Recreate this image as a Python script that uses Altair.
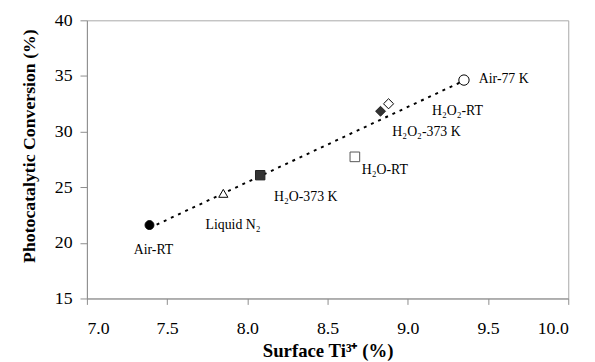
import altair as alt
import pandas as pd

labels = ["Air-RT", "Liquid N₂", "H₂O-373 K", "H₂O-RT", "H₂O₂-373 K", "H₂O₂-RT", "Air-77 K"]
surface_ti = [7.39, 7.85, 8.08, 8.67, 8.83, 8.88, 9.35]
conversion = [21.6, 24.45, 26.08, 27.73, 31.83, 32.5, 34.63]

x_ticks = [7.0, 7.5, 8.0, 8.5, 9.0, 9.5, 10.0]
y_ticks = [15, 20, 25, 30, 35, 40]

df = pd.DataFrame({"label": labels, "x": surface_ti, "y": conversion})

FONT = "Liberation Serif"
AX = "#8c8c8c"

xs = alt.Scale(domain=[7, 10], nice=False, zero=False)
ys = alt.Scale(domain=[15, 40], nice=False, zero=False)

base = alt.Chart(df)

trend = base.transform_regression("x", "y").mark_line(
    color="black", strokeDash=[3, 5], strokeWidth=2
).encode(
    x=alt.X("x:Q", scale=xs,
            axis=alt.Axis(values=x_ticks, format=".1f", title="Surface Ti³⁺ (%)",
                          titleY=53, titleBaseline="middle",
                          labelFont=FONT, labelFontSize=18, titleFont=FONT, titleFontSize=19,
                          tickSize=6, labelPadding=16, grid=False)),
    y=alt.Y("y:Q", scale=ys,
            axis=alt.Axis(values=y_ticks, format="d", title="Photocatalytic Conversion (%)",
                          titleX=-58, titleY=127, titleAngle=-90, titleAlign="center",
                          labelFont=FONT, labelFontSize=18, titleFont=FONT, titleFontSize=18,
                          titleBaseline="middle", tickSize=7, labelPadding=8, grid=False)),
)

shapes = ["circle", "triangle-up", "square", "square", "diamond", "diamond", "circle"]
fills = ["black", "white", "#333333", "white", "#333333", "white", "white"]
strokes = ["black", "black", "#222222", "#555555", "#222222", "black", "black"]
sizes = [81, 110, 81, 100, 110, 90, 81]

points = base.mark_point(opacity=1, fillOpacity=1, strokeWidth=1).encode(
    x=alt.X("x:Q", scale=xs),
    y=alt.Y("y:Q", scale=ys),
    shape=alt.Shape("label:N", scale=alt.Scale(domain=labels, range=shapes), legend=None),
    fill=alt.Fill("label:N", scale=alt.Scale(domain=labels, range=fills), legend=None),
    stroke=alt.Stroke("label:N", scale=alt.Scale(domain=labels, range=strokes), legend=None),
    size=alt.Size("label:N", scale=alt.Scale(domain=labels, range=sizes), legend=None),
)

label_style = {
    "Air-RT": dict(dx=4, dy=25, align="center"),
    "Liquid N₂": dict(dx=-18, dy=32, align="left"),
    "H₂O-373 K": dict(dx=14, dy=22, align="left"),
    "H₂O-RT": dict(dx=7, dy=13, align="left"),
    "H₂O₂-373 K": dict(dx=12, dy=21, align="left"),
    "H₂O₂-RT": dict(dx=44, dy=7, align="left"),
    "Air-77 K": dict(dx=15, dy=-1, align="left"),
}

texts = []
for lab in labels:
    st = label_style[lab]
    texts.append(
        base.transform_filter(alt.datum.label == lab).mark_text(
            font=FONT, fontSize=14, color="black", baseline="middle",
            align=st["align"], dx=st["dx"], dy=st["dy"]
        ).encode(
            x=alt.X("x:Q", scale=xs),
            y=alt.Y("y:Q", scale=ys),
            text="label:N",
        )
    )

chart = alt.layer(trend, points, *texts).properties(
    width=488, height=282,
    autosize=alt.AutoSizeParams(type="none"),
    padding={"left": 80, "top": 10, "right": 19, "bottom": 70},
).configure_view(
    stroke="#a8a8a8", strokeWidth=1
).configure_axis(
    domainColor=AX, tickColor=AX, labelFont=FONT, labelFontSize=18, labelColor="black",
    titleFont=FONT, titleFontSize=18, titleFontWeight="bold", titleColor="black",
)

chart.save("out.html", embed_options={"renderer": "svg", "actions": False})
